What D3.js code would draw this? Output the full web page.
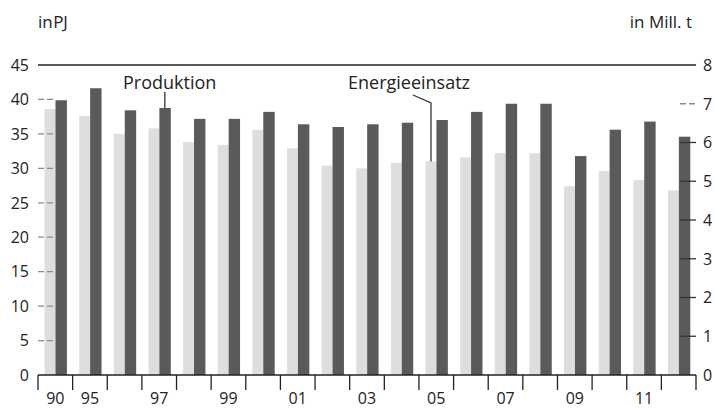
<!DOCTYPE html>
<html><head><meta charset="utf-8">
<script src="https://cdn.jsdelivr.net/npm/d3@7"></script>
<style>
html,body{margin:0;padding:0;background:#fff;}
svg{display:block;font-family:"Open Sans",sans-serif;}
</style></head>
<body>
<svg id="chart" width="715" height="409"></svg>
<script>
// ---- data ----
const years = ["1990","1995","1996","1997","1998","1999","2000","2001","2002","2003","2004","2005","2006","2007","2008","2009","2010","2011","2012"];
const yearLabels = ["90","95","","97","","99","","01","","03","","05","","07","","09","","11",""];
// Energieeinsatz in PJ (left axis, light bars)
const energieeinsatz = [38.6,37.6,35.0,35.8,33.8,33.4,35.6,32.9,30.4,30.0,30.8,31.0,31.6,32.2,32.2,27.4,29.6,28.3,26.8];
// Produktion in Mill. t (right axis, dark bars)
const produktion = [7.09,7.40,6.83,6.89,6.61,6.61,6.79,6.47,6.40,6.47,6.51,6.58,6.79,7.00,7.00,5.65,6.33,6.54,6.15];
const leftTicks = [0,5,10,15,20,25,30,35,40,45];
const rightTicks = [0,1,2,3,4,5,6,7,8];

// ---- layout ----
const svg = d3.select("#chart");
const x0 = 38, x1 = 696, yTop = 65, yBase = 375;
const x = d3.scaleBand().domain(years).range([x0, x1]).padding(0);
const bw = x.bandwidth();
const sub = d3.scaleBand().domain(["e","p"]).range([bw*0.19, bw*0.82]).padding(0);
const yL = d3.scaleLinear().domain([0,45]).range([yBase, yTop]);
const yR = d3.scaleLinear().domain([0,8]).range([yBase, yTop]);

const cLight = "#dedede", cDark = "#5a5a5a";

// bars
const g = svg.append("g");
g.selectAll("rect.e").data(years).join("rect")
  .attr("x", d => x(d) + sub("e")).attr("width", sub.bandwidth())
  .attr("y", (d,i) => yL(energieeinsatz[i])).attr("height", (d,i) => yBase - yL(energieeinsatz[i]))
  .attr("fill", cLight);
g.selectAll("rect.p").data(years).join("rect")
  .attr("x", d => x(d) + sub("p")).attr("width", sub.bandwidth()+0.5)
  .attr("y", (d,i) => yR(produktion[i])).attr("height", (d,i) => yBase - yR(produktion[i]))
  .attr("fill", cDark);

// top line
svg.append("line").attr("x1", x0).attr("x2", x1).attr("y1", yTop).attr("y2", yTop)
  .attr("stroke", "#222").attr("stroke-width", 1.4);

// left axis ticks (dashed) + labels
const lt = svg.append("g");
lt.selectAll("line").data(leftTicks.filter(v => v>0 && v<45)).join("line")
  .attr("x1", x0).attr("x2", x0+15).attr("y1", d => yL(d)).attr("y2", d => yL(d))
  .attr("stroke", "#8a8a8a").attr("stroke-width", 1.3).attr("stroke-dasharray", "6,3");
lt.selectAll("text").data(leftTicks).join("text")
  .attr("x", 29).attr("y", d => yL(d)).attr("dy", "0.36em").attr("text-anchor", "end")
  .attr("font-size", 16).attr("fill", "#222").text(d => d);

// right axis ticks + labels (ticks darker where they cross the last bar)
const rt = svg.append("g");
rt.selectAll("line").data(rightTicks.filter(v => v>0 && v<8)).join("line")
  .attr("x1", x1-16).attr("x2", x1).attr("y1", d => yR(d)).attr("y2", d => yR(d))
  .attr("stroke", d => yR(d) > yR(produktion[produktion.length-1]) ? "#333" : "#8a8a8a")
  .attr("stroke-width", 1.3)
  .attr("stroke-dasharray", d => yR(d) > yR(produktion[produktion.length-1]) ? null : "6,3");
rt.selectAll("text").data(rightTicks).join("text")
  .attr("x", 703).attr("y", d => yR(d)).attr("dy", "0.36em").attr("text-anchor", "start")
  .attr("font-size", 16).attr("fill", "#222").text(d => d);

// x axis
const xa = svg.append("g");
xa.append("line").attr("x1", x0).attr("x2", x1).attr("y1", yBase).attr("y2", yBase)
  .attr("stroke", "#222").attr("stroke-width", 1.4);
const edges = years.map(d => x(d)).concat([x1]);
xa.selectAll("line.t").data(edges).join("line").attr("class","t")
  .attr("x1", d => d).attr("x2", d => d).attr("y1", yBase).attr("y2", yBase+15)
  .attr("stroke", "#222").attr("stroke-width", 1.3);
xa.selectAll("text").data(years).join("text")
  .attr("x", d => x(d) + bw/2).attr("y", 404).attr("text-anchor", "middle")
  .attr("font-size", 16).attr("fill", "#222").text((d,i) => yearLabels[i]);

// unit labels
svg.append("text").attr("x", 38).attr("y", 28).attr("font-size", 17).attr("fill", "#222")
  .attr("word-spacing", "-4").text("in PJ");
svg.append("text").attr("x", 692).attr("y", 28).attr("font-size", 17).attr("fill", "#222")
  .attr("text-anchor", "end").text("in Mill. t");

// series annotations
const iP = years.indexOf("1997");
const px = x(years[iP]) + sub("p") + sub.bandwidth()/2;
svg.append("text").attr("x", 123).attr("y", 89).attr("font-size", 18).attr("fill", "#222").text("Produktion");
svg.append("line").attr("x1", px).attr("x2", px).attr("y1", 92).attr("y2", yR(produktion[iP]))
  .attr("stroke", "#333").attr("stroke-width", 1.3);

const iE = years.indexOf("2005");
const ex = x(years[iE]) + sub("e") + sub.bandwidth()/2;
svg.append("text").attr("x", 348).attr("y", 89).attr("font-size", 18).attr("fill", "#222").text("Energieeinsatz");
svg.append("path").attr("d", `M${ex-18},95 L${ex},103 L${ex},${yL(energieeinsatz[iE])}`)
  .attr("fill", "none").attr("stroke", "#333").attr("stroke-width", 1.3);
</script>
</body></html>
